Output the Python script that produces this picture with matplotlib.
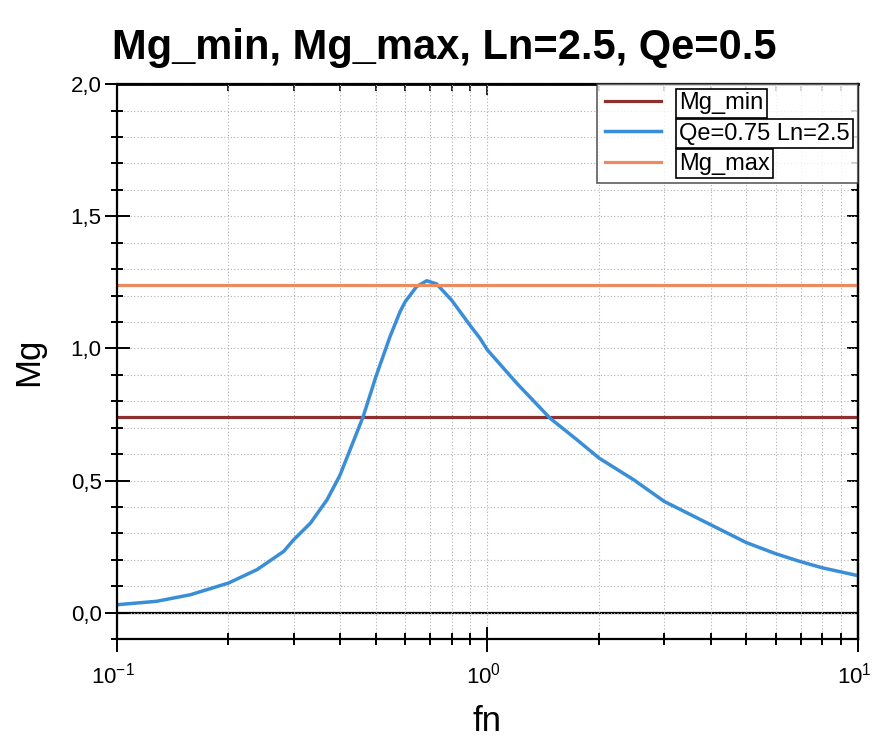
import matplotlib
matplotlib.use("Agg")
import matplotlib.pyplot as plt
from matplotlib.ticker import LogLocator, MultipleLocator, FuncFormatter, NullFormatter
from matplotlib.transforms import ScaledTranslation

# Data
fn = [0.1, 0.128, 0.158, 0.2, 0.239, 0.282, 0.3, 0.333, 0.369, 0.4, 0.462, 0.5,
      0.546, 0.581, 0.6, 0.644, 0.686, 0.729, 0.8, 0.9, 0.954, 1.0, 1.2, 1.475,
      1.745, 2.0, 2.48, 3.0, 4.0, 5.0, 6.0, 7.0, 8.0, 10.0]
mg = [0.03, 0.043, 0.068, 0.112, 0.163, 0.232, 0.276, 0.339, 0.427, 0.52, 0.742, 0.893,
      1.045, 1.139, 1.177, 1.234, 1.256, 1.244, 1.183, 1.085, 1.039, 0.994, 0.868, 0.736,
      0.654, 0.585, 0.503, 0.421, 0.333, 0.265, 0.223, 0.193, 0.17, 0.14]
mg_min = 0.74
mg_max = 1.24

plt.rcParams['font.family'] = ['Liberation Sans', 'DejaVu Sans']
plt.rcParams['mathtext.fontset'] = 'custom'
plt.rcParams['mathtext.rm'] = 'Liberation Sans'
plt.rcParams['mathtext.default'] = 'regular'

fig = plt.figure(figsize=(8.72, 7.38), dpi=100)
ax = fig.add_axes([0.134, 0.134, 0.85, 0.752])

ax.axhline(mg_min, color='#8c3030', lw=2.3, label='Mg_min')
ax.plot(fn, mg, color='#3a8ed8', lw=2.5, label='Qe=0.75 Ln=2.5')
ax.axhline(mg_max, color='#ec8a60', lw=2.3, label='Mg_max')
ax.axhline(0, color='black', lw=1.6, zorder=1)

ax.set_xscale('log')
ax.set_xlim(0.1, 10)
ax.set_ylim(-0.1, 2.0)

ax.yaxis.set_major_locator(MultipleLocator(0.5))
ax.yaxis.set_minor_locator(MultipleLocator(0.1))
ax.yaxis.set_major_formatter(FuncFormatter(lambda v, p: f"{v:.1f}".replace('.', ',')))
ax.xaxis.set_major_locator(LogLocator(base=10))
ax.xaxis.set_minor_locator(LogLocator(base=10, subs=range(2, 10)))
ax.xaxis.set_minor_formatter(NullFormatter())

ax.grid(True, which='both', color='#b0b0b0', linestyle=(0, (1, 2)), lw=0.8)
ax.tick_params(which='both', direction='inout', labelsize=16, width=1.4, color='black')
ax.tick_params(which='major', length=18)
ax.tick_params(which='minor', length=9)
ax.tick_params(axis='x', pad=8)
ax.tick_params(axis='y', pad=2)
for s in ax.spines.values():
    s.set_linewidth(1.6)

# shift x tick labels a little left, as in the reference
shift = ScaledTranslation(-4 / 100, 0, fig.dpi_scale_trans)
for lbl in ax.get_xticklabels():
    lbl.set_transform(lbl.get_transform() + shift)

# inward ticks on the right and top
sy = ax.secondary_yaxis('right')
sy.yaxis.set_major_locator(MultipleLocator(0.5))
sy.yaxis.set_minor_locator(MultipleLocator(0.1))
sy.yaxis.set_major_formatter(NullFormatter())
sy.tick_params(which='both', direction='in', width=1.4)
sy.tick_params(which='major', length=8)
sy.tick_params(which='minor', length=5)
sy.spines['right'].set_linewidth(1.6)

sx = ax.secondary_xaxis('top')
sx.xaxis.set_major_locator(LogLocator(base=10))
sx.xaxis.set_minor_locator(LogLocator(base=10, subs=range(2, 10)))
sx.xaxis.set_major_formatter(NullFormatter())
sx.xaxis.set_minor_formatter(NullFormatter())
sx.tick_params(which='both', direction='in', width=1.2)
sx.tick_params(which='major', length=8)
sx.tick_params(which='minor', length=5)
sx.spines['top'].set_linewidth(2.0)

fig.suptitle('Mg_min, Mg_max, Ln=2.5, Qe=0.5', x=0.51, y=0.962, fontsize=30, fontweight='bold')
ax.set_xlabel('fn', fontsize=25, labelpad=12)
ax.set_ylabel('Mg', fontsize=25, labelpad=18)

leg = ax.legend(loc='upper right', borderaxespad=0, fancybox=False, fontsize=17,
                handlelength=2.4, handletextpad=0.75, labelspacing=0.35, borderpad=0.35)
leg.get_frame().set_edgecolor('#333333')
leg.get_frame().set_linewidth(1.2)
for t in leg.get_texts():
    t.set_bbox(dict(facecolor='white', edgecolor='black', pad=2.5, lw=1.2))

plt.savefig('out.png', dpi=100)
